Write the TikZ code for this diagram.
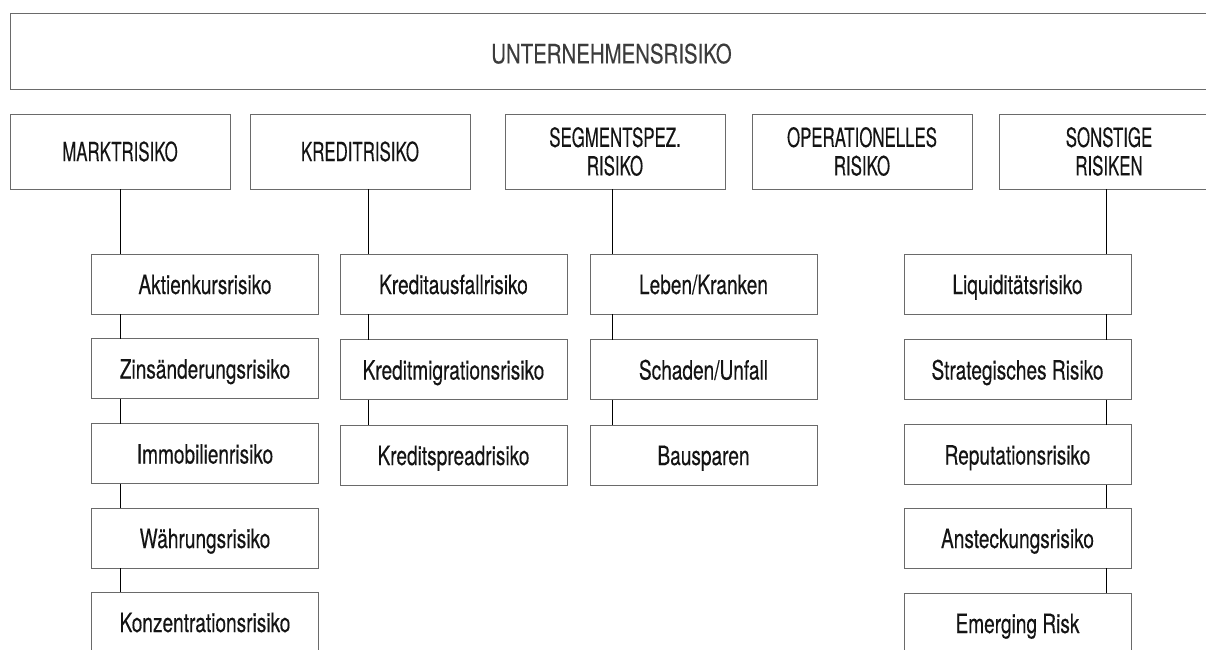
\documentclass[tikz,border=0pt]{standalone}
\usepackage{fontspec}
\setmainfont{TeX Gyre Heros}
\newfontfamily\fntA[FakeStretch=0.77,FakeBold=0.25]{TeX Gyre Heros}
\newfontfamily\fntB[FakeStretch=0.635,FakeBold=0.25]{TeX Gyre Heros}
\newfontfamily\fntC[FakeStretch=0.72,FakeBold=0.25]{TeX Gyre Heros}
\definecolor{boxgray}{HTML}{6A6A6A}
\definecolor{txtdark}{HTML}{141414}
\definecolor{txtgray}{HTML}{3C3C3C}
\begin{document}
\begin{tikzpicture}[x=1pt,y=-1pt,
  boxbase/.style={draw=boxgray, line width=1pt, rectangle, inner sep=0pt, outer sep=0pt, align=center, text=txtdark, anchor=north west},
  topbox/.style={boxbase, minimum width=1203, minimum height=76, text=txtgray, font=\fntA\fontsize{26.5}{28}\selectfont, text height=24pt, text depth=0pt},
  catbox/.style={boxbase, minimum width=220, minimum height=75, font=\fntB\fontsize{26.5}{28.5}\selectfont},
  subbox/.style={boxbase, minimum width=227, minimum height=60, font=\fntC\fontsize{26.5}{28}\selectfont, text height=20pt, text depth=0pt},
  conn/.style={draw=black, line width=1pt}]
\useasboundingbox (0,0) rectangle (1206,649);
\clip (0,0) rectangle (1206,649);
\fill[white] (0,0) rectangle (1206,649);

% top
\node[topbox] (top) at (10,13.3) {UNTERNEHMENSRISIKO};

% level 1
\node[catbox] (markt) at (10,114) {MARKTRISIKO};
\node[catbox] (kredit) at (250,114) {KREDITRISIKO};
\node[catbox] (segm) at (505,114) {SEGMENTSPEZ.\\RISIKO};
\node[catbox] (oper) at (752,114) {OPERATIONELLES\\RISIKO};
\node[catbox] (sonst) at (999,114) {SONSTIGE\\RISIKEN};

% Markt column
\node[subbox] (m1) at (91.5,254) {Aktienkursrisiko};
\node[subbox] (m2) at (91.5,338.5) {Zinsänderungsrisiko};
\node[subbox] (m3) at (91.5,423.5) {Immobilienrisiko};
\node[subbox] (m4) at (91.5,508) {Währungsrisiko};
\node[subbox] (m5) at (91.5,592) {Konzentrationsrisiko};

% Kredit column
\node[subbox] (k1) at (340,254) {Kreditausfallrisiko};
\node[subbox] (k2) at (340,339.5) {Kreditmigrationsrisiko};
\node[subbox] (k3) at (340,425) {Kreditspreadrisiko};

% Segment column
\node[subbox] (s1) at (590,254) {Leben/Kranken};
\node[subbox] (s2) at (590,339.5) {Schaden/Unfall};
\node[subbox] (s3) at (590,425) {Bausparen};

% Sonstige column
\node[subbox] (o1) at (904,254) {Liquiditätsrisiko};
\node[subbox] (o2) at (904,339.5) {Strategisches Risiko};
\node[subbox] (o3) at (904,424.5) {Reputationsrisiko};
\node[subbox] (o4) at (904,508) {Ansteckungsrisiko};
\node[subbox] (o5) at (904,593) {Emerging Risk};

% connector x positions
\coordinate (cM) at (120.5,0);
\coordinate (cK) at (368.5,0);
\coordinate (cS) at (612.5,0);
\coordinate (cO) at (1106.5,0);

\draw[conn] (markt.south -| cM) -- (m1.north -| cM);
\draw[conn] (m1.south -| cM) -- (m2.north -| cM);
\draw[conn] (m2.south -| cM) -- (m3.north -| cM);
\draw[conn] (m3.south -| cM) -- (m4.north -| cM);
\draw[conn] (m4.south -| cM) -- (m5.north -| cM);

\draw[conn] (kredit.south -| cK) -- (k1.north -| cK);
\draw[conn] (k1.south -| cK) -- (k2.north -| cK);
\draw[conn] (k2.south -| cK) -- (k3.north -| cK);

\draw[conn] (segm.south -| cS) -- (s1.north -| cS);
\draw[conn] (s1.south -| cS) -- (s2.north -| cS);
\draw[conn] (s2.south -| cS) -- (s3.north -| cS);

\draw[conn] (sonst.south -| cO) -- (o1.north -| cO);
\draw[conn] (o1.south -| cO) -- (o2.north -| cO);
\draw[conn] (o2.south -| cO) -- (o3.north -| cO);
\draw[conn] (o3.south -| cO) -- (o4.north -| cO);
\draw[conn] (o4.south -| cO) -- (o5.north -| cO);
\end{tikzpicture}
\end{document}
